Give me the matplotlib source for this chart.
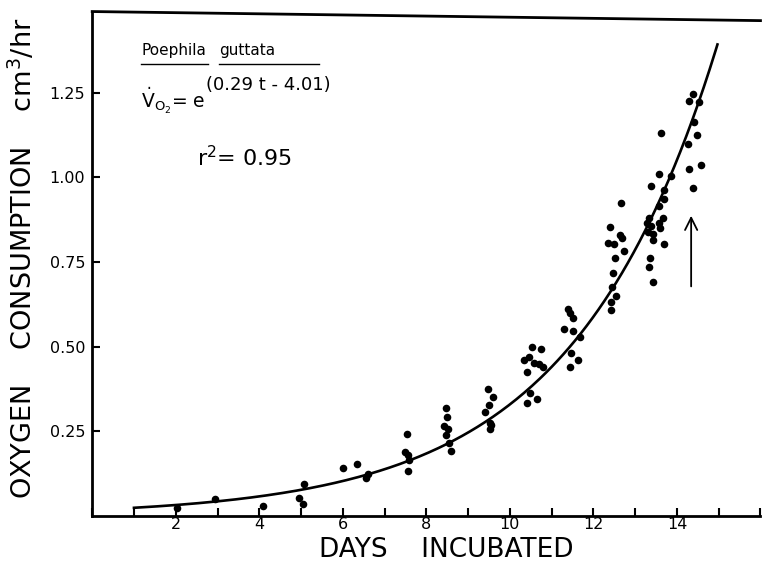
# Consumo de oxigeno de embriones de Poephila guttata segun dias de incubacion.
import numpy as np
import matplotlib.pyplot as plt
from matplotlib.ticker import MultipleLocator

dias = [2.04, 2.95, 4.08, 4.96, 5.04, 5.06, 6.00, 6.35, 6.55, 6.60,
        7.53, 7.48, 7.55, 7.58, 7.55, 8.47, 8.49, 8.42, 8.51, 8.47,
        8.54, 8.58, 9.47, 9.59, 9.50, 9.40, 9.52, 9.54, 9.52, 10.53,
        10.74, 10.34, 10.46, 10.58, 10.70, 10.80, 10.41, 10.48, 10.65, 10.41,
        11.39, 11.44, 11.51, 11.30, 11.51, 11.68, 11.46, 11.63, 11.44, 12.40,
        12.64, 12.69, 12.35, 12.50, 12.73, 12.52, 12.47, 12.45, 12.54, 12.42,
        12.42, 12.66, 13.62, 13.57, 13.86, 13.38, 13.69, 13.69, 13.57, 13.33,
        13.29, 13.38, 13.67, 13.57, 13.60, 13.31, 13.43, 13.43, 13.69, 13.36,
        13.33, 13.43, 14.39, 14.29, 14.53, 14.41, 14.48, 14.27, 14.29, 14.58,
        14.39]
vo2 = [0.024, 0.050, 0.029, 0.053, 0.035, 0.094, 0.141, 0.153, 0.112, 0.124,
       0.241, 0.188, 0.179, 0.165, 0.132, 0.318, 0.291, 0.265, 0.256, 0.238,
       0.215, 0.191, 0.374, 0.350, 0.329, 0.306, 0.276, 0.268, 0.256, 0.500,
       0.494, 0.462, 0.471, 0.453, 0.450, 0.441, 0.426, 0.362, 0.347, 0.335,
       0.612, 0.600, 0.585, 0.553, 0.547, 0.529, 0.482, 0.462, 0.441, 0.853,
       0.829, 0.821, 0.806, 0.803, 0.782, 0.762, 0.718, 0.676, 0.650, 0.632,
       0.609, 0.924, 1.132, 1.009, 1.003, 0.974, 0.962, 0.935, 0.915, 0.879,
       0.865, 0.856, 0.879, 0.865, 0.850, 0.838, 0.832, 0.815, 0.803, 0.762,
       0.735, 0.691, 1.247, 1.226, 1.224, 1.165, 1.124, 1.100, 1.026, 1.038,
       0.968]

# Ajuste exponencial indicado en la figura: VO2 = e^(b*t + a)
pendiente = 0.29
intercepto = -4.01
t_inicio, t_fin = 1.0, 14.97

# Flecha que marca la eclosion
flecha_x = 14.34
flecha_y = [0.67, 0.895]

xticks = [2, 4, 6, 8, 10, 12, 14]
yticks = [0.25, 0.50, 0.75, 1.00, 1.25]

plt.rcParams['font.family'] = ['DejaVu Sans']
plt.rcParams['mathtext.default'] = 'regular'

fig = plt.figure(figsize=(7.62, 5.63), dpi=100)
ax = fig.add_axes([0.121, 0.0835, 0.877, 0.896])

t = np.linspace(t_inicio, t_fin, 300)
ax.plot(t, np.exp(pendiente * t + intercepto), color='black', linewidth=1.9,
        clip_on=False)
ax.scatter(dias, vo2, s=30, color='black', zorder=3, linewidths=0)

ax.annotate('', xy=(flecha_x, flecha_y[1]), xytext=(flecha_x, flecha_y[0]),
            arrowprops=dict(arrowstyle='->', color='black', lw=1.3,
                            mutation_scale=22))

ax.set_xlim(0, 16)
ax.set_ylim(0, 1.49)
ax.set_xticks(xticks)
ax.set_xticklabels([str(v) for v in xticks])
ax.xaxis.set_minor_locator(MultipleLocator(1))
ax.set_yticks(yticks)
ax.set_yticklabels([f'{v:.2f}' for v in yticks])

ax.tick_params(axis='both', which='both', direction='in', width=1.5,
               length=6, labelsize=11.5)
ax.tick_params(axis='x', pad=1)
ax.tick_params(axis='y', pad=5)

for lado in ('left', 'bottom'):
    ax.spines[lado].set_linewidth(2)
ax.spines['right'].set_visible(False)
ax.spines['top'].set_visible(False)
# borde superior ligeramente inclinado, como en el original
ax.plot([0, 1], [1.0, 0.982], transform=ax.transAxes, color='black',
        lw=2, clip_on=False)

# Textos dentro del grafico
ax.text(1.18, 1.375, 'Poephila', fontsize=11, ha='left', va='center')
ax.text(3.03, 1.375, 'guttata', fontsize=11, ha='left', va='center')
ax.plot([1.18, 2.78], [1.334, 1.334], color='black', lw=1)
ax.plot([3.03, 5.42], [1.334, 1.334], color='black', lw=1)
ax.text(1.18, 1.225, r'$\dot{V}_{O_2}$= e', fontsize=13.5, ha='left',
        va='center')
ax.text(2.73, 1.272, '(0.29 t - 4.01)', fontsize=13, ha='left', va='center')
ax.text(2.5, 1.06, r'r$^2$= 0.95', fontsize=16, ha='left', va='center')

fig.text(446 / 762, 1 - 550 / 563, 'DAYS    INCUBATED', fontsize=19,
         ha='center', va='center')
fig.text(23 / 762, 1 - 258 / 563, 'OXYGEN    CONSUMPTION    cm$^3$/hr',
         fontsize=19.5, rotation=90, ha='center', va='center')

fig.savefig('out.png', dpi=100)
